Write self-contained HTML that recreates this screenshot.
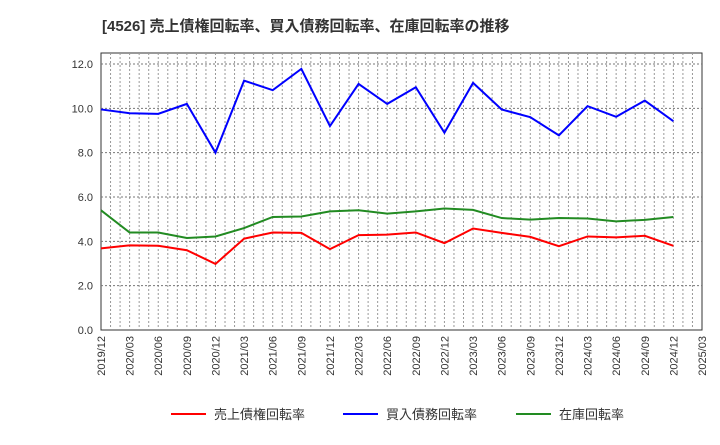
<!DOCTYPE html>
<html><head><meta charset="utf-8"><style>
body{margin:0;background:#fff;font-family:"Liberation Sans","Noto Sans CJK JP",sans-serif}
</style></head><body>
<svg id="c" width="720" height="440" xmlns="http://www.w3.org/2000/svg">
<text x="102" y="31" font-size="15" font-weight="bold" fill="#333">[4526]  売上債権回転率、買入債務回転率、在庫回転率の推移</text>
</svg>
<script>
const categories=["2019/12","2020/03","2020/06","2020/09","2020/12","2021/03","2021/06","2021/09","2021/12","2022/03","2022/06","2022/09","2022/12","2023/03","2023/06","2023/09","2023/12","2024/03","2024/06","2024/09","2024/12","2025/03"];
const receivables=[3.68,3.82,3.8,3.6,2.98,4.12,4.4,4.38,3.65,4.28,4.3,4.4,3.92,4.58,4.38,4.2,3.78,4.22,4.18,4.25,3.8];
const payables=[9.95,9.78,9.75,10.2,8.0,11.25,10.82,11.78,9.2,11.1,10.2,10.95,8.9,11.15,9.95,9.6,8.78,10.1,9.62,10.35,9.42];
const inventory=[5.4,4.4,4.4,4.15,4.22,4.6,5.1,5.12,5.35,5.4,5.25,5.35,5.48,5.42,5.05,4.98,5.05,5.03,4.9,4.97,5.1];
const yTicks=[0,2,4,6,8,10,12];
const NS="http://www.w3.org/2000/svg",svg=document.getElementById('c');
const L=101,R=702,T=53,B=330;
const xs=i=>L+i*(R-L)/(categories.length-1);
const ys=v=>B-v*(B-64)/12;
function mk(t,a){const e=document.createElementNS(NS,t);for(const k in a)e.setAttribute(k,a[k]);svg.appendChild(e);return e;}
const bg=mk('rect',{x:L,y:T,width:R-L,height:B-T,fill:'#fff',stroke:'#333','stroke-width':1});


for(let i=1;i<categories.length*3-3;i++){const x=L+i*(R-L)/((categories.length-1)*3);
const g=mk('line',{x1:x,x2:x,y1:T,y2:B,stroke:'#999','stroke-dasharray':'2,2','stroke-width':1});

}
yTicks.forEach(v=>{const y=ys(v);
if(v>0){const g=mk('line',{x1:L,x2:R,y1:y,y2:y,stroke:'#777','stroke-dasharray':'2,2'});

}
const t=mk('text',{x:L-8,y:y+4,'text-anchor':'end','font-size':11,fill:'#333'});t.textContent=v.toFixed(1);

});
categories.forEach((c,i)=>{const x=xs(i);const t=mk('text',{transform:`translate(${x+4},${B+6}) rotate(-90)`,'text-anchor':'end','font-size':11,fill:'#333'});t.textContent=c;

});
function line(d,col,name){const p=mk('polyline',{points:d.map((v,i)=>xs(i)+','+ys(v)).join(' '),fill:'none',stroke:col,'stroke-width':2});

}
line(inventory,'#228B22','inventory-line');
line(receivables,'#ff0000','receivables-line');
line(payables,'#0000ff','payables-line');
[['売上債権回転率','#ff0000',171],['買入債務回転率','#0000ff',343],['在庫回転率','#228B22',516]].forEach(([n,c,x])=>{
const l=mk('line',{x1:x,x2:x+35,y1:414,y2:414,stroke:c,'stroke-width':2});


const t=mk('text',{x:x+43,y:419,'font-size':13,fill:'#333'});t.textContent=n;

});
</script>
</body></html>
